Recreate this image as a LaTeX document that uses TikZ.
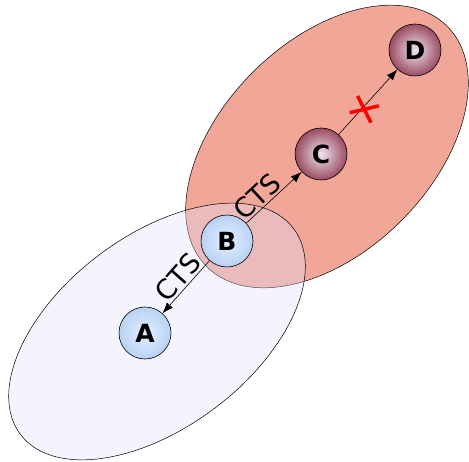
\documentclass[tikz,border=0pt]{standalone}
\usepackage{fontspec}
\setmainfont{DejaVu Sans}
\usetikzlibrary{arrows.meta,shapes.misc}
\definecolor{salmon}{HTML}{F2A698}
\definecolor{haze}{HTML}{E0E0FF}
\definecolor{skyin}{HTML}{E4EFFF}
\definecolor{skyout}{HTML}{B8D2F4}
\definecolor{plumin}{HTML}{EEE2F2}
\definecolor{plumout}{HTML}{9A4C60}

\begin{document}
\begin{tikzpicture}[x=1pt, y=1pt,
  peer/.style={circle, draw=black, line width=0.6pt, minimum size=52pt, inner sep=0pt, font=\bfseries\fontsize{25}{25}\selectfont},
  near/.style={peer, inner color=skyin, outer color=skyout},
  far/.style={peer, inner color=plumin, outer color=plumout},
  arrow/.style={-{Latex[length=11pt,width=8pt]}, line width=0.6pt},
  tag/.style={sloped, above, font=\fontsize{27}{27}\selectfont, inner sep=2pt},
  xmark/.style={cross out, draw=red, line width=3.5pt, minimum width=20pt, minimum height=15pt, inner sep=0pt, rotate=-25}
]
  \useasboundingbox (0,0) rectangle (469,461);
  \draw[fill=salmon, line width=0.5pt, rotate around={45:(327,314.5)}] (327,314.5) ellipse (170 and 105);
  \draw[fill=haze, fill opacity=0.36, line width=0.5pt, rotate around={37:(157,129.5)}] (157,129.5) ellipse (171 and 96);
  \node[near] (A) at (145,128) {A};
  \node[near] (B) at (227,220) {B};
  \node[far] (C) at (321,307) {C};
  \node[far] (D) at (415,411) {D};
  \draw[arrow] (B) -- node[tag, pos=0.47] {CTS} (A);
  \draw[arrow] (B) -- node[tag, pos=0.35] {CTS} (C);
  \draw[arrow] (C) -- node[xmark, pos=0.45, xshift=1pt, yshift=-4pt] {} (D);
\end{tikzpicture}
\end{document}
